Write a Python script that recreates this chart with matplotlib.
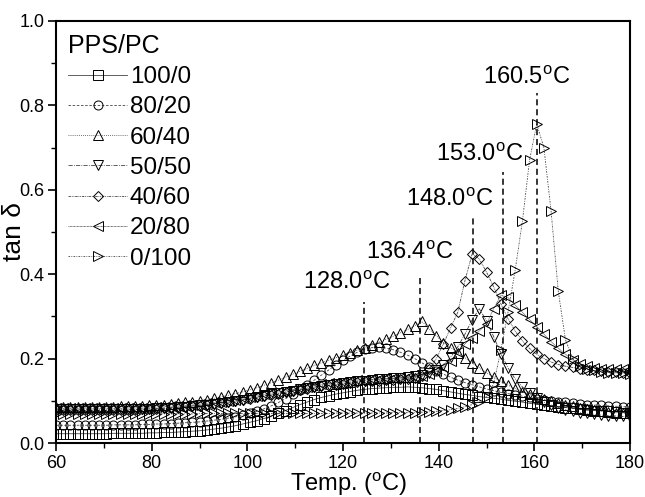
import numpy as np
import matplotlib
matplotlib.use('Agg')
import matplotlib.pyplot as plt
from matplotlib.ticker import MultipleLocator

plt.rcParams['font.family'] = ['Liberation Sans', 'DejaVu Sans']
plt.rcParams['mathtext.default'] = 'regular'

# temperature grid of the DMA scan (deg C), one reading every 1.5 deg
TEMP = np.linspace(60, 180, 81)

PPS_100 = [
    0.022, 0.022, 0.022, 0.022, 0.022, 0.022, 0.022, 0.022, 0.023, 0.023,
    0.023, 0.023, 0.023, 0.024, 0.024, 0.025, 0.025, 0.026, 0.027, 0.028,
    0.029, 0.031, 0.033, 0.035, 0.038, 0.041, 0.045, 0.049, 0.053, 0.058,
    0.064, 0.070, 0.077, 0.084, 0.091, 0.097, 0.103, 0.108, 0.112, 0.116,
    0.119, 0.122, 0.125, 0.127, 0.129, 0.130, 0.131, 0.132, 0.132, 0.133,
    0.132, 0.131, 0.129, 0.127, 0.124, 0.121, 0.118, 0.115, 0.113, 0.110,
    0.108, 0.106, 0.104, 0.101, 0.099, 0.097, 0.094, 0.092, 0.090, 0.088,
    0.086, 0.084, 0.082, 0.080, 0.079, 0.077, 0.076, 0.075, 0.074, 0.072,
    0.071]

PPS_80 = [
    0.042, 0.042, 0.042, 0.042, 0.042, 0.042, 0.042, 0.042, 0.043, 0.043,
    0.043, 0.043, 0.044, 0.044, 0.045, 0.045, 0.046, 0.047, 0.048, 0.049,
    0.050, 0.052, 0.054, 0.056, 0.059, 0.062, 0.066, 0.070, 0.075, 0.081,
    0.088, 0.096, 0.105, 0.115, 0.126, 0.137, 0.149, 0.161, 0.173, 0.185,
    0.196, 0.206, 0.215, 0.222, 0.226, 0.227, 0.225, 0.221, 0.215, 0.208,
    0.200, 0.190, 0.180, 0.171, 0.163, 0.156, 0.149, 0.143, 0.138, 0.133,
    0.128, 0.124, 0.120, 0.117, 0.114, 0.111, 0.108, 0.105, 0.102, 0.100,
    0.098, 0.096, 0.094, 0.092, 0.091, 0.090, 0.089, 0.088, 0.087, 0.086,
    0.085]

PPS_60 = [
    0.085, 0.085, 0.085, 0.085, 0.085, 0.086, 0.086, 0.086, 0.086, 0.087,
    0.087, 0.087, 0.088, 0.089, 0.090, 0.091, 0.092, 0.094, 0.096, 0.098,
    0.100, 0.103, 0.106, 0.109, 0.113, 0.117, 0.121, 0.126, 0.131, 0.137,
    0.143, 0.149, 0.156, 0.163, 0.170, 0.177, 0.184, 0.190, 0.196, 0.202,
    0.208, 0.214, 0.220, 0.226, 0.232, 0.239, 0.246, 0.253, 0.261, 0.269,
    0.278, 0.288, 0.270, 0.254, 0.238, 0.226, 0.214, 0.202, 0.190, 0.178,
    0.166, 0.156, 0.146, 0.137, 0.129, 0.122, 0.115, 0.109, 0.104, 0.099,
    0.095, 0.091, 0.087, 0.083, 0.080, 0.078, 0.076, 0.074, 0.072, 0.071,
    0.070]

PPS_50 = [
    0.080, 0.080, 0.080, 0.080, 0.080, 0.080, 0.080, 0.080, 0.080, 0.080,
    0.080, 0.080, 0.081, 0.081, 0.082, 0.083, 0.084, 0.085, 0.086, 0.088,
    0.089, 0.091, 0.093, 0.095, 0.097, 0.100, 0.103, 0.106, 0.109, 0.112,
    0.115, 0.118, 0.121, 0.124, 0.127, 0.130, 0.133, 0.136, 0.138, 0.140,
    0.142, 0.144, 0.146, 0.148, 0.150, 0.151, 0.152, 0.153, 0.154, 0.156,
    0.158, 0.161, 0.166, 0.174, 0.186, 0.203, 0.228, 0.258, 0.292, 0.318,
    0.290, 0.252, 0.212, 0.178, 0.152, 0.133, 0.118, 0.106, 0.097, 0.090,
    0.084, 0.079, 0.075, 0.072, 0.070, 0.068, 0.066, 0.065, 0.064, 0.063,
    0.062]

PPS_40 = [
    0.078, 0.078, 0.078, 0.078, 0.078, 0.078, 0.078, 0.078, 0.078, 0.078,
    0.079, 0.079, 0.080, 0.080, 0.081, 0.082, 0.083, 0.084, 0.085, 0.087,
    0.088, 0.090, 0.092, 0.094, 0.096, 0.099, 0.102, 0.105, 0.108, 0.111,
    0.114, 0.117, 0.120, 0.123, 0.126, 0.129, 0.132, 0.134, 0.136, 0.138,
    0.140, 0.142, 0.144, 0.146, 0.147, 0.148, 0.149, 0.150, 0.151, 0.152,
    0.154, 0.158, 0.175, 0.200, 0.235, 0.273, 0.310, 0.385, 0.448, 0.436,
    0.405, 0.370, 0.330, 0.295, 0.265, 0.242, 0.224, 0.210, 0.200, 0.192,
    0.186, 0.182, 0.179, 0.176, 0.174, 0.172, 0.170, 0.169, 0.168, 0.167,
    0.166]

PPS_20 = [
    0.082, 0.082, 0.082, 0.082, 0.082, 0.082, 0.082, 0.082, 0.082, 0.082,
    0.083, 0.083, 0.083, 0.084, 0.085, 0.086, 0.087, 0.088, 0.089, 0.090,
    0.092, 0.094, 0.096, 0.098, 0.100, 0.103, 0.106, 0.109, 0.112, 0.115,
    0.118, 0.121, 0.124, 0.127, 0.130, 0.133, 0.136, 0.139, 0.141, 0.143,
    0.145, 0.147, 0.149, 0.150, 0.151, 0.152, 0.153, 0.154, 0.155, 0.156,
    0.157, 0.159, 0.163, 0.170, 0.180, 0.195, 0.215, 0.235, 0.250, 0.266,
    0.282, 0.318, 0.350, 0.345, 0.327, 0.310, 0.293, 0.276, 0.258, 0.240,
    0.225, 0.210, 0.197, 0.188, 0.182, 0.178, 0.176, 0.175, 0.175, 0.175,
    0.175]

PPS_0 = [
    0.068, 0.068, 0.068, 0.068, 0.068, 0.068, 0.068, 0.068, 0.068, 0.068,
    0.068, 0.068, 0.069, 0.069, 0.069, 0.069, 0.069, 0.069, 0.069, 0.069,
    0.070, 0.070, 0.070, 0.070, 0.070, 0.070, 0.070, 0.070, 0.070, 0.070,
    0.070, 0.070, 0.070, 0.070, 0.070, 0.070, 0.070, 0.070, 0.070, 0.071,
    0.071, 0.071, 0.071, 0.071, 0.071, 0.071, 0.071, 0.072, 0.072, 0.072,
    0.072, 0.073, 0.074, 0.075, 0.077, 0.079, 0.082, 0.086, 0.091, 0.098,
    0.110, 0.140, 0.220, 0.310, 0.410, 0.525, 0.670, 0.756, 0.700, 0.550,
    0.360, 0.245, 0.200, 0.183, 0.176, 0.172, 0.169, 0.167, 0.166, 0.165,
    0.164]

LABELS = ['100/0', '80/20', '60/40', '50/50', '40/60', '20/80', '0/100']
SERIES = [PPS_100, PPS_80, PPS_60, PPS_50, PPS_40, PPS_20, PPS_0]
MARKERS = ['s', 'o', '^', 'v', 'D', '<', '>']
LINESTYLES = ['-', (0, (3, 2)), (0, (1, 1.5)), (0, (5, 1.5, 1, 1.5)),
              (0, (3, 1, 1, 1, 1, 1)), (0, (1, 0.7)), (0, (2, 1.5, 1, 1.5))]

# peak temperatures marked with dashed drop lines
PEAK_TEXT = ['128.0', '136.4', '148.0', '153.0', '160.5']
PEAK_LINE_X = [124.3, 136.2, 147.2, 153.4, 160.5]
PEAK_LINE_TOP = [0.334, 0.393, 0.540, 0.642, 0.829]
PEAK_TEXT_X = [120.8, 134.0, 142.2, 148.6, 158.5]
PEAK_TEXT_Y = [0.379, 0.450, 0.576, 0.682, 0.865]

fig = plt.figure(figsize=(6.45, 4.97), dpi=100, facecolor='white')
ax = fig.add_axes([56 / 645, 1 - 443 / 497, 574 / 645, 422 / 497])

for vals, lab, mk, ls in zip(SERIES, LABELS, MARKERS, LINESTYLES):
    ms = 5.5 if mk == 'D' else 6.5
    ax.plot(TEMP, vals, linestyle=ls, color='#444444', linewidth=0.6,
            marker=mk, markersize=ms, markerfacecolor='none',
            markeredgecolor='black', markeredgewidth=0.7, label=lab)

for x, top, txt, tx, ty in zip(PEAK_LINE_X, PEAK_LINE_TOP, PEAK_TEXT,
                               PEAK_TEXT_X, PEAK_TEXT_Y):
    ax.plot([x, x], [0, top], color='black', linestyle=(0, (4, 2.5)), linewidth=1.1)
    ax.text(tx, ty, txt + '$^{o}$C', fontsize=17, ha='center', va='center')

ax.set_xlim(60, 180)
ax.set_ylim(0, 1.0)
ax.xaxis.set_major_locator(MultipleLocator(20))
ax.xaxis.set_minor_locator(MultipleLocator(10))
ax.yaxis.set_major_locator(MultipleLocator(0.2))
ax.yaxis.set_minor_locator(MultipleLocator(0.1))
ax.yaxis.set_major_formatter(plt.FormatStrFormatter('%.1f'))
ax.tick_params(which='major', direction='out', length=6, width=1.2, labelsize=13, pad=2.5)
ax.tick_params(which='minor', direction='out', length=3.5, width=1.0)
ax.tick_params(top=False, right=False)
for sp in ax.spines.values():
    sp.set_linewidth(1.5)

ax.set_xlabel('Temp. ($^{o}$C)', fontsize=17)
ax.xaxis.set_label_coords(0.509, -0.066)
ax.set_ylabel('tan δ', fontsize=19)
ax.yaxis.set_label_coords(-0.052, 0.50)

leg = ax.legend(loc='upper left', bbox_to_anchor=(-5 / 574, 1.01),
                title='PPS/PC', frameon=False, fontsize=17.5,
                title_fontsize=18, alignment='left', handlelength=2.43,
                handletextpad=0.12, labelspacing=0.34, borderaxespad=0.3)

fig.savefig('out.png', dpi=100)
